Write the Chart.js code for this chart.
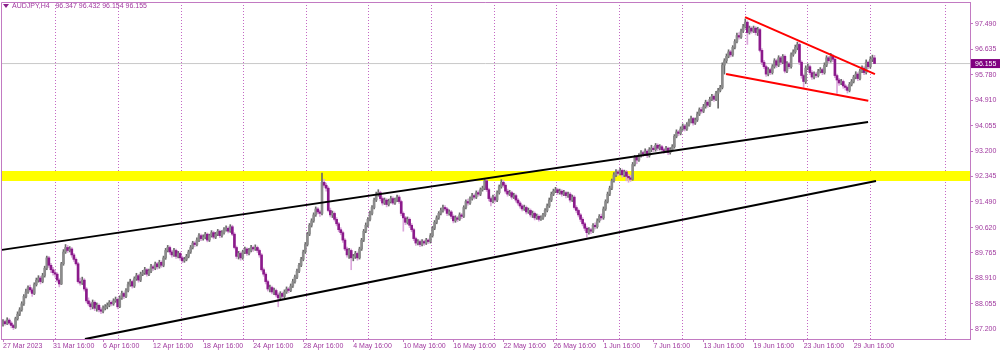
<!DOCTYPE html>
<html>
<head>
<meta charset="utf-8">
<script src="https://cdn.jsdelivr.net/npm/chart.js@4.4.0/dist/chart.umd.min.js"></script>
<style>
  body { margin: 0; background: #fff; }
  #wrap { position: relative; width: 1000px; height: 352px; }
  #myChart { display: block; }
  #title {
    position: absolute; left: 3px; top: 2px;
    font: 7px "Liberation Sans", sans-serif;
    color: #a0399f; white-space: pre;
  }
  #title .tri {
    display: inline-block; width: 0; height: 0; margin: 0 3px 1px 0;
    border-left: 3px solid transparent; border-right: 3px solid transparent;
    border-top: 4px solid #8a1f8a; vertical-align: middle;
  }
</style>
</head>
<body>
<div id="wrap">
  <canvas id="myChart" width="1000" height="352"></canvas>
  <div id="title"><span class="tri"></span>AUDJPY,H4   96.347 96.432 96.154 96.155</div>
</div>
<script>
// AUDJPY H4 candles, one value per bar
const firstOpen = 87.35;

const closes = [
  87.45,87.38,87.50,87.40,87.32,87.25,87.55,87.70,87.85,88.05,88.30,88.45,88.60,88.52,88.40,88.70,88.85,88.92,88.80,89.00,89.25,89.60,89.35,89.20,
  89.10,89.05,88.85,88.72,89.40,89.80,89.95,89.85,89.90,89.70,89.55,89.40,88.80,88.75,88.85,88.55,88.15,88.05,87.95,88.10,87.90,88.00,87.85,87.80,
  87.90,87.95,88.00,88.10,88.05,88.15,88.20,87.95,88.25,88.40,88.30,88.50,88.70,88.80,88.65,88.90,89.00,88.85,89.05,89.10,89.20,89.05,89.15,89.30,
  89.25,89.40,89.30,89.45,89.35,89.60,89.85,89.95,89.80,89.70,89.85,89.65,89.75,89.60,89.50,89.55,89.65,89.80,89.95,90.10,90.05,90.20,90.35,90.25,
  90.30,90.40,90.20,90.35,90.45,90.30,90.40,90.50,90.35,90.45,90.55,90.60,90.50,90.65,90.40,89.95,89.65,89.75,89.60,89.80,89.90,89.75,89.85,89.95,
  89.90,89.95,89.85,89.70,89.20,89.05,88.80,88.55,88.60,88.45,88.50,88.35,88.25,88.40,88.30,88.45,88.55,88.50,88.65,88.80,88.95,89.15,89.35,89.55,
  89.80,90.05,90.40,90.70,90.85,91.05,91.25,91.15,91.10,92.15,92.05,91.95,91.20,91.05,91.10,90.90,90.75,90.55,90.45,90.20,89.90,89.70,89.85,89.60,
  89.65,89.75,89.60,89.90,90.20,90.50,90.70,90.90,91.10,91.30,91.55,91.75,91.80,91.60,91.45,91.55,91.40,91.50,91.60,91.45,91.55,91.65,91.50,91.10,
  90.95,90.80,90.90,90.70,90.55,90.25,90.10,90.15,90.05,90.15,90.10,90.20,90.15,90.35,90.60,90.80,90.95,91.10,91.20,91.30,91.25,91.10,91.15,91.00,
  90.85,90.95,90.90,91.05,91.00,91.30,91.50,91.45,91.60,91.70,91.65,91.80,91.75,91.90,91.95,92.20,91.90,91.60,91.50,91.65,91.55,91.80,92.00,92.15,
  92.05,91.85,91.75,91.80,91.65,91.70,91.55,91.45,91.35,91.25,91.30,91.15,91.20,91.05,91.10,90.95,91.00,90.90,90.95,91.05,91.20,91.35,91.55,91.75,
  91.85,91.90,91.80,91.85,91.75,91.80,91.70,91.75,91.55,91.65,91.30,91.20,91.05,90.90,90.75,90.60,90.45,90.55,90.50,90.70,90.65,90.85,91.00,90.95,
  91.25,91.50,91.75,91.95,92.20,92.40,92.50,92.45,92.55,92.40,92.50,92.35,92.30,92.25,92.75,93.00,92.90,93.05,93.15,93.10,93.20,93.05,93.25,93.30,
  93.25,93.40,93.30,93.35,93.25,93.20,93.30,93.15,93.25,93.35,93.70,93.85,93.80,93.95,94.05,93.95,94.10,94.20,94.30,94.15,94.25,94.45,94.60,94.55,
  94.70,94.85,94.75,94.95,95.05,94.95,95.15,95.25,95.35,96.10,96.25,96.40,96.55,96.45,96.70,96.90,97.10,97.05,97.25,97.40,97.55,97.20,97.35,97.25,
  97.35,97.20,97.30,96.60,96.20,96.05,95.80,95.95,95.85,96.05,96.25,96.10,96.35,96.20,96.40,95.90,96.15,96.05,96.45,96.55,96.70,96.80,96.20,95.75,
  95.55,96.00,96.05,95.85,95.70,95.80,95.75,95.90,95.95,95.85,96.10,96.35,96.25,96.40,96.30,95.75,95.60,95.50,95.55,95.40,95.35,95.25,95.45,95.55,
  95.70,95.80,95.65,95.90,96.00,95.85,96.20,96.05,96.30,96.347,96.155
];

const highs = [
  87.52,87.50,87.58,87.55,87.45,87.36,87.60,87.78,87.92,88.12,88.36,88.55,88.66,88.68,88.58,88.76,88.92,89.00,88.98,89.08,89.32,89.66,89.65,89.42,
  89.28,89.18,89.10,88.90,89.45,89.88,90.05,90.02,89.98,89.95,89.75,89.60,89.45,88.92,88.95,88.90,88.60,88.25,88.12,88.18,88.15,88.08,88.05,87.92,
  87.98,88.02,88.08,88.16,88.15,88.22,88.28,88.25,88.32,88.48,88.45,88.56,88.78,88.88,88.85,88.96,89.08,89.05,89.12,89.18,89.28,89.24,89.22,89.38,
  89.36,89.46,89.45,89.52,89.50,89.66,89.92,90.02,90.00,89.86,89.92,89.90,89.82,89.80,89.66,89.62,89.72,89.86,90.02,90.16,90.15,90.28,90.42,90.40,
  90.38,90.46,90.44,90.40,90.52,90.50,90.46,90.56,90.54,90.52,90.62,90.68,90.65,90.72,90.70,90.45,90.00,89.82,89.80,89.86,89.96,89.94,89.92,90.02,
  90.00,90.04,90.00,89.90,89.75,89.26,89.10,88.85,88.68,88.65,88.58,88.55,88.42,88.46,88.45,88.52,88.62,88.60,88.72,88.88,89.02,89.22,89.42,89.62,
  89.86,90.12,90.46,90.76,90.92,91.12,91.32,91.30,91.20,92.46,92.25,92.12,92.00,91.28,91.18,91.15,90.96,90.80,90.62,90.50,90.25,89.96,89.92,89.90,
  89.72,89.82,89.80,89.96,90.26,90.56,90.78,90.96,91.18,91.36,91.62,91.82,91.90,91.85,91.66,91.62,91.60,91.58,91.68,91.66,91.62,91.72,91.70,91.55,
  91.15,91.00,90.98,90.95,90.76,90.60,90.30,90.22,90.20,90.22,90.20,90.26,90.24,90.42,90.66,90.86,91.02,91.16,91.28,91.38,91.36,91.30,91.22,91.20,
  91.05,91.02,91.00,91.12,91.10,91.36,91.56,91.58,91.66,91.78,91.76,91.86,91.86,91.96,92.02,92.25,92.24,91.95,91.66,91.72,91.70,91.86,92.06,92.24,
  92.22,92.10,91.92,91.88,91.85,91.78,91.75,91.60,91.50,91.40,91.38,91.35,91.28,91.25,91.18,91.15,91.08,91.05,91.02,91.10,91.26,91.42,91.62,91.82,
  91.92,91.98,91.95,91.92,91.90,91.88,91.84,91.82,91.80,91.72,91.70,91.36,91.25,91.10,90.96,90.80,90.65,90.62,90.60,90.76,90.78,90.92,91.06,91.08,
  91.32,91.56,91.82,92.02,92.26,92.48,92.58,92.56,92.62,92.60,92.56,92.55,92.42,92.38,92.82,93.06,93.05,93.12,93.22,93.20,93.28,93.25,93.32,93.40,
  93.36,93.46,93.45,93.42,93.40,93.30,93.36,93.34,93.32,93.42,93.76,93.92,93.90,94.02,94.12,94.10,94.16,94.28,94.38,94.34,94.32,94.52,94.66,94.68,
  94.78,94.92,94.90,95.02,95.12,95.10,95.22,95.32,95.42,96.18,96.32,96.48,96.62,96.60,96.76,96.96,97.18,97.20,97.32,97.48,97.66,97.60,97.42,97.40,
  97.42,97.40,97.38,97.34,96.66,96.26,96.10,96.02,96.00,96.12,96.32,96.30,96.42,96.40,96.46,96.45,96.22,96.20,96.52,96.62,96.78,96.88,96.85,96.25,
  95.80,96.08,96.14,96.10,95.92,95.88,95.86,95.96,96.02,96.00,96.18,96.42,96.40,96.50,96.46,96.35,95.80,95.66,95.62,95.60,95.46,95.40,95.52,95.62,
  95.76,95.88,95.85,95.96,96.08,96.05,96.28,96.24,96.38,96.44,96.432
];

const lows = [
  87.30,87.33,87.35,87.34,87.24,87.18,87.22,87.50,87.65,87.80,88.00,88.25,88.40,88.45,88.30,88.36,88.65,88.78,88.72,88.76,88.95,89.20,89.28,89.10,
  89.02,88.95,88.78,88.62,88.70,89.35,89.75,89.78,89.80,89.62,89.48,89.35,88.75,88.68,88.70,88.48,88.08,87.98,87.85,87.88,87.82,87.80,87.78,87.72,
  87.74,87.84,87.88,87.95,87.98,88.00,88.10,87.88,87.92,88.20,88.22,88.26,88.45,88.64,88.58,88.60,88.84,88.78,88.80,89.00,89.04,88.98,89.00,89.10,
  89.18,89.20,89.22,89.25,89.28,89.30,89.55,89.80,89.72,89.62,89.65,89.58,89.60,89.52,89.44,89.45,89.50,89.60,89.75,89.90,89.98,90.00,90.15,90.18,
  90.20,90.24,90.14,90.15,90.30,90.24,90.25,90.35,90.28,90.30,90.40,90.50,90.44,90.46,90.35,89.90,89.58,89.56,89.52,89.55,89.74,89.68,89.70,89.80,
  89.82,89.85,89.78,89.62,89.15,88.98,88.72,88.48,88.45,88.38,88.36,88.28,87.95,88.20,88.22,88.25,88.40,88.42,88.46,88.60,88.75,88.90,89.10,89.30,
  89.50,89.75,90.00,90.35,90.64,90.80,91.00,91.08,91.00,91.05,91.98,91.85,91.15,90.98,90.96,90.84,90.68,90.48,90.38,90.12,89.84,89.62,89.58,89.20,
  89.50,89.58,89.52,89.56,89.85,90.15,90.45,90.64,90.85,91.05,91.25,91.50,91.68,91.52,91.38,91.40,91.32,91.35,91.45,91.40,91.40,91.50,91.44,91.02,
  90.50,90.72,90.74,90.62,90.48,90.18,90.02,90.04,89.98,90.00,90.02,90.05,90.08,90.10,90.30,90.55,90.75,90.90,91.05,91.14,91.18,91.02,91.04,90.92,
  90.78,90.80,90.82,90.86,90.92,90.96,91.25,91.38,91.40,91.55,91.58,91.60,91.68,91.70,91.85,91.90,91.84,91.52,91.35,91.45,91.48,91.50,91.75,91.95,
  91.98,91.78,91.68,91.70,91.58,91.60,91.48,91.38,91.28,91.18,91.20,91.08,91.10,90.98,90.96,90.88,90.90,90.84,90.86,90.90,91.00,91.15,91.30,91.50,
  91.70,91.80,91.74,91.75,91.68,91.70,91.62,91.64,91.48,91.50,91.24,91.12,90.98,90.82,90.68,90.52,90.30,90.40,90.42,90.45,90.58,90.60,90.80,90.88,
  90.90,91.20,91.45,91.70,91.90,92.15,92.34,92.38,92.40,92.32,92.34,92.20,92.15,92.18,92.22,92.70,92.78,92.85,93.00,93.02,93.05,92.98,93.00,93.18,
  93.18,93.20,93.22,93.24,93.18,93.12,93.15,93.08,93.10,93.20,93.30,93.65,93.72,93.75,93.90,93.88,93.90,94.04,94.15,94.08,94.10,94.20,94.40,94.48,
  94.50,94.65,94.68,94.70,94.90,94.88,94.90,94.65,95.20,95.30,95.80,96.18,96.35,96.38,96.40,96.65,96.85,96.98,97.00,97.20,97.35,96.80,97.15,97.18,
  97.20,97.12,97.10,96.55,96.12,95.98,95.72,95.74,95.78,95.80,96.00,96.02,96.05,96.12,96.15,95.84,95.85,95.98,96.00,96.40,96.50,96.62,96.12,95.66,
  95.35,95.48,95.95,95.78,95.62,95.64,95.68,95.70,95.84,95.78,95.80,96.05,96.18,96.20,96.22,95.68,95.15,95.42,95.44,95.32,95.26,95.16,95.20,95.40,
  95.50,95.64,95.58,95.60,95.85,95.78,95.80,95.98,96.00,96.22,96.154
];

// open of each bar = close of the bar before
const opens = closes.map((c, i) => i === 0 ? firstOpen : closes[i - 1]);

// time axis labels, one every 24 H4 bars
const dateLabels = ["27 Mar 2023", "31 Mar 16:00", "6 Apr 16:00", "12 Apr 16:00", "18 Apr 16:00", "24 Apr 16:00",
  "28 Apr 16:00", "4 May 16:00", "10 May 16:00", "16 May 16:00", "22 May 16:00", "26 May 16:00",
  "1 Jun 16:00", "7 Jun 16:00", "13 Jun 16:00", "19 Jun 16:00", "23 Jun 16:00", "29 Jun 16:00"];
const labelBars = dateLabels.map((d, i) => i * 24);

// price scale
const yTicks = [87.200, 88.055, 88.910, 89.765, 90.620, 91.490, 92.345, 93.200, 94.055, 94.910, 95.780, 96.635, 97.490];
const lastPrice = 96.155;

// drawings on the chart (bar index, price)
const zone = [92.19, 92.53];
const channelTop = [[-0.5, 89.87], [414.9, 94.18]];
const channelBottom = [[39.3, 86.86], [418.7, 92.19]];
const wedgeTop = [[355.9, 97.72], [418.2, 95.80]];
const wedgeBottom = [[346.8, 95.80], [415.0, 94.90]];

// dotted separators
const gridBars = [25.3, 55.3, 85.4, 115.4, 145.5, 175.5, 205.6, 235.7, 265.7, 295.7, 325.8, 355.9, 385.9, 415.9, 452.1];
const xTickValues = labelBars.concat(gridBars).sort((a, b) => a - b);

const frameColor = '#c27ac2';
const textColor = '#a0399f';
const dotColor = '#c468c4';
const fontSpec = { family: '"Liberation Sans", sans-serif', size: 7, lineHeight: 1 };

const isUp = closes.map((c, i) => c >= opens[i]);
const bodyColors = isUp.map(u => u ? '#8c8c8c' : '#8b1a8b');
const wickColors = isUp.map(u => u ? '#6a6a6a' : '#dba6db');

const toPts = arr => arr.map(p => ({ x: p[0], y: p[1] }));

// left + top edge of the plot frame
const frameBox = {
  id: 'frameBox',
  afterDatasetsDraw(chart) {
    const { ctx, chartArea: a } = chart;
    ctx.save();
    ctx.strokeStyle = frameColor;
    ctx.lineWidth = 1;
    ctx.beginPath();
    ctx.moveTo(a.left + 0.5, a.bottom);
    ctx.lineTo(a.left + 0.5, a.top + 0.5);
    ctx.lineTo(a.right, a.top + 0.5);
    ctx.stroke();
    ctx.restore();
  }
};

const ctx = document.getElementById('myChart');

new Chart(ctx, {
  type: 'bar',
  data: {
    datasets: [
      { type: 'line', label: 'channel top', data: toPts(channelTop), borderColor: '#000000', borderWidth: 2, pointRadius: 0, order: 0 },
      { type: 'line', label: 'channel bottom', data: toPts(channelBottom), borderColor: '#000000', borderWidth: 2, pointRadius: 0, order: 0 },
      { type: 'line', label: 'wedge top', data: toPts(wedgeTop), borderColor: '#ff0000', borderWidth: 2, pointRadius: 0, order: 0 },
      { type: 'line', label: 'wedge bottom', data: toPts(wedgeBottom), borderColor: '#ff0000', borderWidth: 2, pointRadius: 0, order: 0 },
      {
        label: 'bodies',
        data: closes.map((c, i) => ({ x: i, y: [opens[i], c] })),
        backgroundColor: bodyColors,
        barThickness: 2, grouped: false, minBarLength: 1, order: 5
      },
      {
        label: 'wicks',
        data: closes.map((c, i) => ({ x: i, y: [lows[i], highs[i]] })),
        backgroundColor: wickColors,
        barThickness: 1, grouped: false, order: 6
      },
      {
        type: 'line', label: 'last price',
        data: [{ x: -5, y: lastPrice }, { x: 470, y: lastPrice }],
        borderColor: '#c8c8c8', borderWidth: 1, pointRadius: 0, order: 7
      },
      {
        type: 'line', label: 'zone',
        data: [{ x: -5, y: zone[1] }, { x: 470, y: zone[1] }],
        borderWidth: 0, pointRadius: 0, fill: { value: zone[0] }, backgroundColor: '#ffff00', order: 8
      }
    ]
  },
  options: {
    responsive: false,
    animation: false,
    events: [],
    layout: { padding: { left: 1, top: 2, right: 0, bottom: 0 } },
    plugins: { legend: { display: false }, tooltip: { enabled: false } },
    scales: {
      x: {
        type: 'linear', min: -0.96, max: 463.79, offset: false,
        afterBuildTicks: s => { s.ticks = xTickValues.map(v => ({ value: v })); },
        afterFit: s => { s.height = 13; s.paddingLeft = 0; s.paddingRight = 0; },
        ticks: {
          autoSkip: false, maxRotation: 0, minRotation: 0, align: 'start', padding: 1,
          color: textColor, font: fontSpec,
          callback: v => { const k = labelBars.indexOf(v); return k >= 0 ? dateLabels[k] : ''; }
        },
        grid: {
          offset: false, drawOnChartArea: true, lineWidth: 1, tickLength: 3,
          color: c => (c.tick && gridBars.includes(c.tick.value)) ? dotColor : 'rgba(0,0,0,0)',
          tickColor: c => (c.tick && labelBars.includes(c.tick.value)) ? frameColor : 'rgba(0,0,0,0)'
        },
        border: { color: frameColor, width: 1, dash: [1, 2] }
      },
      y: {
        type: 'linear', position: 'right', min: 86.863, max: 98.232,
        afterBuildTicks: s => { s.ticks = yTicks.concat([lastPrice]).map(v => ({ value: v })); },
        afterFit: s => { s.width = 30; s.paddingTop = 0; s.paddingBottom = 0; },
        ticks: {
          autoSkip: false, padding: 2, font: fontSpec,
          color: c => (c.tick && c.tick.value === lastPrice) ? '#ffffff' : textColor,
          callback: v => Number(v).toFixed(3),
          showLabelBackdrop: true,
          backdropColor: c => (c.tick && c.tick.value === lastPrice) ? '#800080' : 'rgba(0,0,0,0)',
          backdropPadding: { left: 4, right: 4, top: 1, bottom: 1 }
        },
        grid: { drawOnChartArea: false, tickLength: 3, tickColor: frameColor },
        border: { color: frameColor, width: 1 }
      }
    }
  },
  plugins: [frameBox]
});
</script>
</body>
</html>
